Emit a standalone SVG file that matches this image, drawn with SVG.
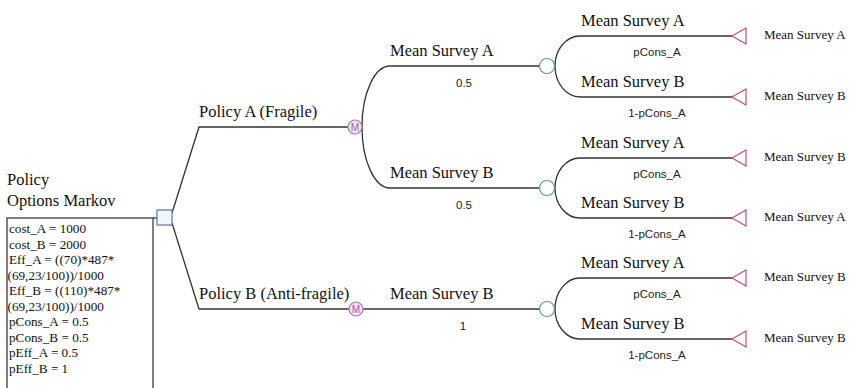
<svg xmlns="http://www.w3.org/2000/svg" width="851" height="388" viewBox="0 0 851 388">
<style>
.ln{fill:none;stroke:#333;stroke-width:1.3}
.lbl{font-family:"Liberation Serif",serif;font-size:16.5px;fill:#111}
.term{font-family:"Liberation Serif",serif;font-size:13px;fill:#111}
.prob{font-family:"Liberation Sans",sans-serif;font-size:11.5px;fill:#222;text-anchor:middle}
.box{font-family:"Liberation Serif",serif;font-size:13.2px;fill:#111}
.chance{fill:#fff;stroke:#5f9c84;stroke-width:1.2}
.markov{fill:#f3e6f3;stroke:#a574b5;stroke-width:1.2}
.mtxt{font-family:"Liberation Sans",sans-serif;font-size:10px;fill:#9a60a8;text-anchor:middle}
.tri{fill:#fff;stroke:#c4506e;stroke-width:1.2}
</style>
<rect width="851" height="388" fill="#fff"/>
<g id="connectors">
  <path class="ln" d="M153,218 H157"/>
  <path class="ln" d="M172,213 L199,127 H348"/>
  <path class="ln" d="M172,223 L199,309 H349"/>
  <path class="ln" d="M362,127 A28,61 0 0 1 390,66 H540"/>
  <path class="ln" d="M362,127 A28,61 0 0 0 390,188 H540"/>
  <path class="ln" d="M363,309 H540"/>
  <path class="ln" d="M555,66 A25,30 0 0 1 580,36 H732"/>
  <path class="ln" d="M555,66 A25,31 0 0 0 580,97 H732"/>
  <path class="ln" d="M555,188 A25,30 0 0 1 580,158 H732"/>
  <path class="ln" d="M555,188 A25,30 0 0 0 580,218 H732"/>
  <path class="ln" d="M555,309 A25,31 0 0 1 580,278 H732"/>
  <path class="ln" d="M555,309 A25,30 0 0 0 580,339 H732"/>
</g>
<g id="decision">
  <text class="lbl" x="7" y="185">Policy</text>
  <text class="lbl" x="7" y="206">Options Markov</text>
  <rect x="157" y="210" width="15" height="15" fill="#f2f7ff" stroke="#5a7899" stroke-width="1.2"/>
</g>
<g id="params">
  <rect x="7" y="218" width="146" height="180" fill="#fff" stroke="#555" stroke-width="1.5"/>
  <text class="box" x="9" y="233">cost_A = 1000</text>
  <text class="box" x="9" y="248.5">cost_B = 2000</text>
  <text class="box" x="9" y="264">Eff_A = ((70)*487*</text>
  <text class="box" x="7.5" y="279.5">(69,23/100))/1000</text>
  <text class="box" x="9" y="295">Eff_B = ((110)*487*</text>
  <text class="box" x="7.5" y="310.5">(69,23/100))/1000</text>
  <text class="box" x="9" y="326">pCons_A = 0.5</text>
  <text class="box" x="9" y="341.5">pCons_B = 0.5</text>
  <text class="box" x="9" y="357">pEff_A = 0.5</text>
  <text class="box" x="9" y="372.5">pEff_B = 1</text>
</g>
<g id="policyA">
  <text class="lbl" x="199" y="117">Policy A (Fragile)</text>
  <circle class="markov" cx="355" cy="127" r="7"/>
  <text class="mtxt" x="355" y="130.6">M</text>
</g>
<g id="policyB">
  <text class="lbl" x="199" y="299">Policy B (Anti-fragile)</text>
  <circle class="markov" cx="356" cy="309" r="7"/>
  <text class="mtxt" x="356" y="312.6">M</text>
</g>
<g id="chanceA1">
  <text class="lbl" x="390" y="56">Mean Survey A</text>
  <text class="prob" x="464" y="87">0.5</text>
  <circle class="chance" cx="547" cy="66" r="7.5"/>
</g>
<g id="chanceA2">
  <text class="lbl" x="390" y="178">Mean Survey B</text>
  <text class="prob" x="464" y="209">0.5</text>
  <circle class="chance" cx="547" cy="188" r="7.5"/>
</g>
<g id="chanceB1">
  <text class="lbl" x="390" y="299">Mean Survey B</text>
  <text class="prob" x="463" y="330">1</text>
  <circle class="chance" cx="547" cy="309" r="7.5"/>
</g>
<g id="term1">
  <text class="lbl" x="581" y="26">Mean Survey A</text>
  <text class="prob" x="657" y="56">pCons_A</text>
  <polygon class="tri" points="732,36 746,28 746,44"/>
  <text class="term" x="764" y="39">Mean Survey A</text>
</g>
<g id="term2">
  <text class="lbl" x="581" y="87">Mean Survey B</text>
  <text class="prob" x="657" y="117">1-pCons_A</text>
  <polygon class="tri" points="732,97 746,89 746,105"/>
  <text class="term" x="764" y="100">Mean Survey B</text>
</g>
<g id="term3">
  <text class="lbl" x="581" y="148">Mean Survey A</text>
  <text class="prob" x="657" y="178">pCons_A</text>
  <polygon class="tri" points="732,158 746,150 746,166"/>
  <text class="term" x="764" y="161">Mean Survey B</text>
</g>
<g id="term4">
  <text class="lbl" x="581" y="208">Mean Survey B</text>
  <text class="prob" x="657" y="238">1-pCons_A</text>
  <polygon class="tri" points="732,218 746,210 746,226"/>
  <text class="term" x="764" y="221">Mean Survey A</text>
</g>
<g id="term5">
  <text class="lbl" x="581" y="268">Mean Survey A</text>
  <text class="prob" x="657" y="298">pCons_A</text>
  <polygon class="tri" points="732,278 746,270 746,286"/>
  <text class="term" x="764" y="281">Mean Survey B</text>
</g>
<g id="term6">
  <text class="lbl" x="581" y="329">Mean Survey B</text>
  <text class="prob" x="657" y="359">1-pCons_A</text>
  <polygon class="tri" points="732,339 746,331 746,347"/>
  <text class="term" x="764" y="342">Mean Survey B</text>
</g>
</svg>
